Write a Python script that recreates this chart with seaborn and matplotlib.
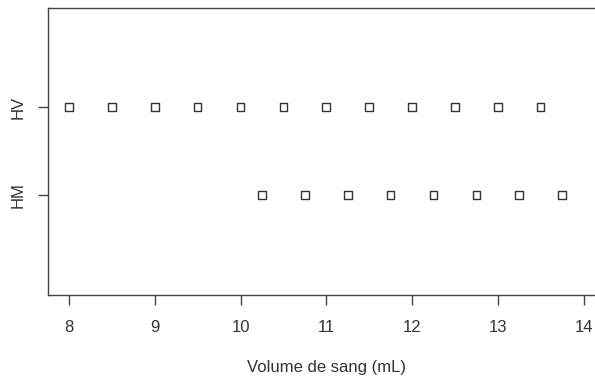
import matplotlib
matplotlib.use("Agg")
import matplotlib.pyplot as plt
import seaborn as sns
import pandas as pd

groups = ["HM", "HV"]
hv_values = [8.0, 8.5, 9.0, 9.5, 10.0, 10.5, 11.0, 11.5, 12.0, 12.5, 13.0, 13.5]
hm_values = [10.25, 10.75, 11.25, 11.75, 12.25, 12.75, 13.25, 13.75]
x_ticks = [8, 9, 10, 11, 12, 13, 14]

sns.set_style("white")
plt.rcParams["font.family"] = ["Liberation Sans", "DejaVu Sans"]

df = pd.DataFrame({
    "volume": hv_values + hm_values,
    "groupe": ["HV"] * len(hv_values) + ["HM"] * len(hm_values),
})
pos = {g: i + 1 for i, g in enumerate(groups)}
df["y"] = df["groupe"].map(pos)

fig = plt.figure(figsize=(5.95, 3.76), dpi=100)
ax = fig.add_axes([48 / 595, 81 / 376, 557 / 595, 287 / 376])

sns.scatterplot(data=df, x="volume", y="y", marker="s", s=30,
                facecolor="none", edgecolor="#333333", linewidth=1.0,
                ax=ax, legend=False)

ax.set_xlim(7.755, 14.25)
ax.set_ylim(-0.136, 3.125)
ax.set_xticks(x_ticks)
ax.set_xticklabels([str(t) for t in x_ticks])
ax.set_yticks([pos[g] for g in groups])
ax.set_yticklabels(groups, rotation=90, va="center")
ax.tick_params(axis="both", direction="out", length=7, width=1,
               color="#444444", labelcolor="#333333", labelsize=12, pad=9,
               left=True, bottom=True)
ax.tick_params(axis="x", pad=11)
for sp in ax.spines.values():
    sp.set_color("#444444")
    sp.set_linewidth(1.0)
ax.set_xlabel("Volume de sang (mL)", fontsize=12, color="#333333", labelpad=18)
ax.set_ylabel("")

fig.savefig("out.png", dpi=100)
